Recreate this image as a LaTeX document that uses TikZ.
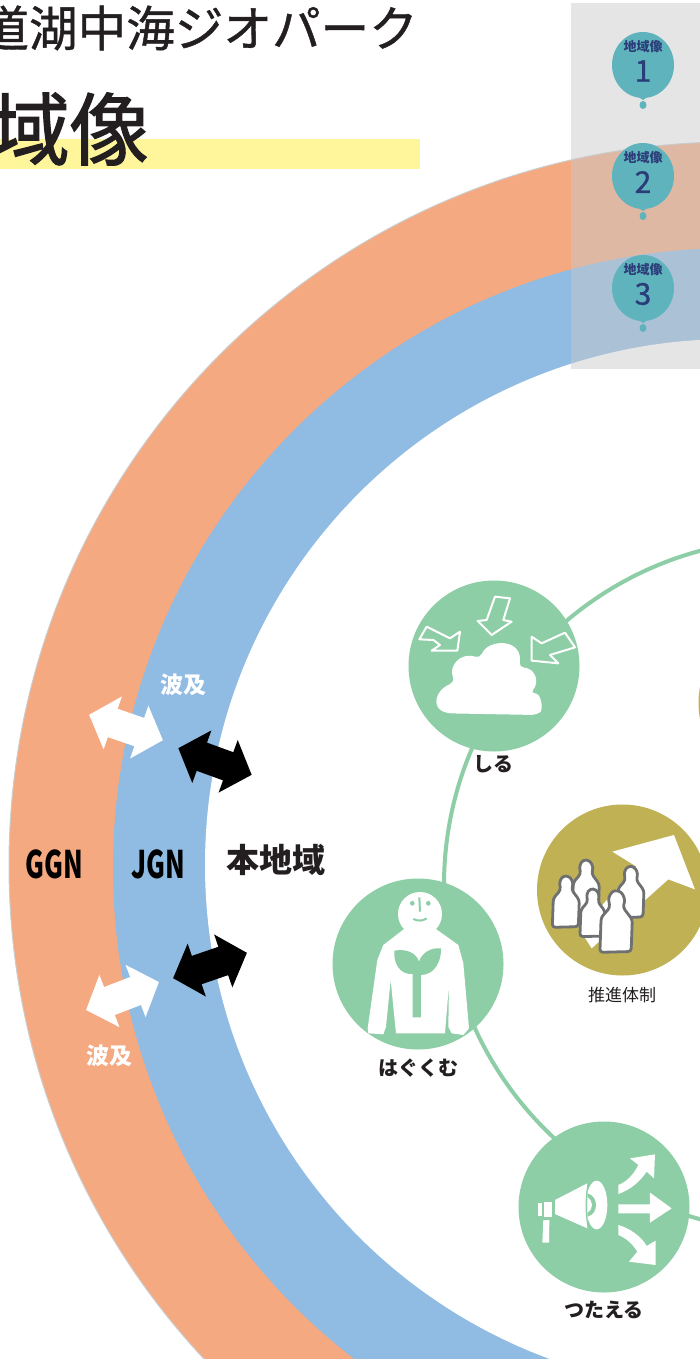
\documentclass[tikz,border=0pt]{standalone}
\usepackage{fontspec}
\setmainfont{Noto Sans CJK JP}
\newfontfamily\titlefont[FakeBold=.9]{Noto Sans CJK JP}
\newfontfamily\bigtitlefont[FakeBold=1.6]{Noto Sans CJK JP}
\definecolor{ggnorange}{HTML}{F4A981}
\definecolor{jgnblue}{HTML}{90BBE2}
\definecolor{stagegreen}{HTML}{8DCEA6}
\definecolor{baseolive}{HTML}{C0B155}
\definecolor{barYellow}{HTML}{FFF59B}
\definecolor{inkblack}{HTML}{231F20}
\definecolor{balloonteal}{HTML}{5FB3BD}
\definecolor{balloonnavy}{HTML}{2B3D78}
\definecolor{peoplegray}{HTML}{6F7072}
\tikzset{
  stage/.style={circle, fill=stagegreen, minimum size=171pt, inner sep=0pt},
  base/.style={circle, fill=baseolive, minimum size=171pt, inner sep=0pt},
  lbl/.style={inner sep=0pt, text=inkblack, font=\bfseries\fontsize{20}{20}\selectfont},
  wave/.style={inner sep=0pt, text=white, font=\bfseries\fontsize{23}{23}\selectfont},
  netname/.style={inner sep=0pt, xscale=.68, text=black, font=\bfseries\fontsize{38}{38}\selectfont},
  icon/.style={fill=white, draw=none},
  iconline/.style={draw=white, line width=2pt, line join=round},
  bothway/.pic={
    \fill[pic actions] (-39,0)--(-14,-28)--(-14,-15)--(14,-15)--(14,-28)--(39,0)--(14,28)--(14,15)--(-14,15)--(-14,28)--cycle;
  },
  person/.pic={
    \draw[fill=white, draw=peoplegray, line width=2.8pt, rounded corners=3pt]
      (-41,0)--(37,-2)--(40,-82)--(17,-112)--(22,-132)--(12,-152)--(-8,-155)--(-20,-137)--(-16,-112)--(-38,-87)--cycle;
  }
}
\begin{document}
\begin{tikzpicture}[x=1pt,y=-1pt]
\useasboundingbox (0,0) rectangle (700,1359);
\clip (0,0) rectangle (700,1359);

% title
\fill[barYellow] (0,139) rectangle (420,169);
\node[anchor=east, inner sep=0pt, text=inkblack, font=\titlefont\fontsize{48.6}{48.6}\selectfont] (title) at (418,28) {道湖中海ジオパーク};
\node[anchor=east, inner sep=0pt, text=inkblack, font=\bigtitlefont\fontsize{79}{79}\selectfont] (titlebig) at (149,129) {域像};

% rings
\fill[ggnorange, draw=black!20, line width=1pt] (732,865) circle[radius=723];
\fill[jgnblue] (733,868) circle[radius=620];
\fill[white] (731,865) circle[radius=526];

% key panel
\fill[fill=black!21, fill opacity=.48] (571,3) rectangle (700,369);
\foreach \n/\y in {1/65,2/176,3/288}{
  \fill[balloonteal] (643,\y) ellipse[x radius=31, y radius=33];
  \fill[balloonteal] (634,\y+29)--(652,\y+29)--(643,\y+35)--cycle;
  \fill[balloonteal] (643,\y+40) ellipse[x radius=3.5, y radius=4];
  \node[inner sep=0pt, text=balloonnavy, font=\bfseries\fontsize{13}{13}\selectfont] (keyname\n) at (643,\y-18) {地域像};
  \node[inner sep=0pt, text=balloonnavy, font=\titlefont\fontsize{30}{30}\selectfont] (keynum\n) at (643,\y+6) {\n};
}

% stage loop
\draw[stagegreen, line width=4pt] (790,885) circle[radius=346];
\node[stage] (siru) at (494,666) {};
\node[stage] (hagu) at (418,964) {};
\node[stage] (tutae) at (604,1207) {};
\node[base] (suishin) at (622.5,890) {};
\node[base] (nextbase) at (784,703) {};

\node[lbl] (sirulbl) at (493,764) {しる};
\node[lbl] (hagulbl) at (418,1068) {はぐくむ};
\node[lbl] (tutaelbl) at (604,1310) {つたえる};
\node[inner sep=0pt, text=inkblack, font=\fontsize{17}{17}\selectfont] (suishinlbl) at (622,995) {推進体制};

% arrows between the areas
\pic[fill=white, rotate=-19] (wavea) at (126,727.5) {bothway};
\pic[fill=white, rotate=21] (waveb) at (122.5,996) {bothway};
\pic[fill=black, rotate=-20] (linka) at (215,761.5) {bothway};
\pic[fill=black, rotate=19] (linkb) at (210,965.5) {bothway};

\node[wave] (wavelbla) at (183,685) {波及};
\node[wave] (wavelblb) at (109,1056) {波及};
\node[netname] (ggn) at (54.5,864) {GGN};
\node[netname] (jgn) at (158,864) {JGN};
\node[lbl, font=\bfseries\fontsize{33}{33}\selectfont] (honchiiki) at (276,860) {本地域};

% cloud icon
\begin{scope}[shift={(400,560)},x=.3333pt,y=-.3333pt]
\fill[icon, rounded corners=5pt] (140,460) .. controls (100,440) and (100,395) .. (165,365)
  .. controls (145,320) and (180,275) .. (240,295)
  .. controls (265,235) and (370,235) .. (357,322)
  .. controls (405,325) and (420,365) .. (390,400)
  .. controls (425,400) and (430,450) .. (408,465) -- cycle;
\draw[iconline] (285,110)--(330,115)--(310,180)--(335,185)--(275,225)--(233,183)--(260,180)--cycle;
\draw[iconline] (58,238)--(80,200)--(150,235)--(180,215)--(172,272)--(95,272)--(120,255)--(100,240)--cycle;
\draw[iconline] (395,230)--(395,302)--(475,310)--(450,285)--(525,262)--(495,218)--(425,250)--cycle;
\end{scope}

% person with sprout
\begin{scope}[shift={(320,790)},x=.3333pt,y=-.3333pt]
\fill[icon] (255,415)--(190,465)--(172,510)--(143,715)--(145,730)--(190,733)--(198,710)--(212,570)
  --(228,730)--(375,730)--(387,585)--(385,710)--(395,730)--(430,735)--(447,715)--(430,520)--(415,465)--(345,415)--cycle;
\fill[icon] (300,372) circle[radius=66];
\fill[stagegreen] (277,340) circle[radius=7];
\fill[stagegreen] (325,340) circle[radius=7];
\draw[stagegreen, line width=2pt] (298,322)--(300,365);
\draw[stagegreen, line width=2pt] (280,387) .. controls (295,395) and (310,392) .. (320,385);
\fill[stagegreen] (223,482) .. controls (260,475) and (290,490) .. (297,515)
  .. controls (305,490) and (330,472) .. (363,475)
  .. controls (365,510) and (345,555) .. (303,555) -- (303,682) -- (278,682) -- (278,552)
  .. controls (240,555) and (220,520) .. (223,482) -- cycle;
\end{scope}

% people and big arrow
\begin{scope}[shift={(320,790)},x=.3333pt,y=-.3333pt]
\fill[icon] (877,185)--(1062,135)--(1125,298)--(1045,268)--(815,475)--(780,420)--(950,230)--cycle;
\pic at (798,364) {person};
\pic at (932,383) {person};
\pic at (738,412) {person};
\pic[scale=.93] at (818,440) {person};
\pic[scale=1.2] at (889,487) {person};
\end{scope}

% megaphone
\begin{scope}[shift={(500,1110)},x=.3333pt,y=-.3333pt]
\fill[icon] (165,270)--(262,220)--(262,355)--(165,312)--cycle;
\fill[icon] (290,285) ellipse[x radius=32, y radius=73];
\draw[stagegreen, line width=1.2pt] (266,212) .. controls (256,260) and (256,315) .. (266,358);
\fill[stagegreen] (262,250) .. controls (280,255) and (288,270) .. (288,285) .. controls (288,300) and (280,315) .. (262,320)--cycle;
\fill[icon] (262,262) .. controls (272,268) and (276,276) .. (276,285) .. controls (276,294) and (272,302) .. (262,308)--cycle;
\fill[icon] (113,278) rectangle (125,318);
\fill[icon] (132,277) rectangle (155,320);
\fill[icon] (130,330)--(148,330)--(147,398)--(127,398)--cycle;
\fill[icon] (465,133)--(390,145)--(415,165) .. controls (400,195) and (380,215) .. (355,225)--(355,252)
  .. controls (390,240) and (420,215) .. (440,185)--(462,205)--cycle;
\fill[icon] (355,283)--(450,283)--(450,248)--(515,295)--(450,338)--(450,310)--(355,310)--cycle;
\fill[icon] (355,345)--(355,375) .. controls (380,385) and (400,405) .. (412,425)--(387,455)--(467,465)--(467,392)--(440,408)
  .. controls (425,380) and (390,355) .. (355,345)--cycle;
\end{scope}
\end{tikzpicture}
\end{document}
